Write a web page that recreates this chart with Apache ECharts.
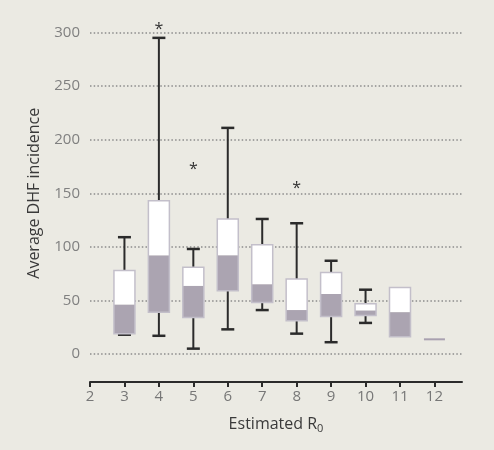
<!DOCTYPE html>
<html><head><meta charset="utf-8">
<script src="https://cdn.jsdelivr.net/npm/echarts@6/dist/echarts.min.js"></script>
<style>html,body{margin:0;padding:0;background:#ebeae3;}#c{width:494px;height:450px;}</style>
</head><body><div id="c"></div>
<script>
// Data
const r0 = [3, 4, 5, 6, 7, 8, 9, 10, 11, 12];
const whiskerLow = [18, 17, 5, 23, 41, 19, 11, 29, null, null];
const q1 = [19, 39, 34, 59, 48, 31, 35, 36, 16, 13.7];
const median = [46, 92, 63.5, 92, 65, 41, 56, 40.5, 39, 13.7];
const q3 = [78, 143, 81, 126, 102, 70, 76, 47, 62, 13.7];
const whiskerHigh = [109, 295, 98, 211, 126, 122, 87, 60, null, null];
const outlierX = [4, 5, 8];
const outlierY = [306, 175, 157];
const yTicks = [0, 50, 100, 150, 200, 250, 300];
const xTicks = [2, 3, 4, 5, 6, 7, 8, 9, 10, 11, 12];

const boxData = r0.map((x, i) => [x, whiskerLow[i], q1[i], median[i], q3[i], whiskerHigh[i]]);
const outData = outlierX.map((x, i) => [x, outlierY[i]]);

const BOX_W = 21, CAP_W = 12;
const FONT = "'Open Sans', 'Liberation Sans', sans-serif";

function renderBox(params, api) {
  const x = api.value(0);
  const lo = api.value(1), a = api.value(2), m = api.value(3), b = api.value(4), hi = api.value(5);
  const pa = api.coord([x, a]), pm = api.coord([x, m]), pb = api.coord([x, b]);
  const cx = pa[0];
  const children = [];
  const wStyle = {stroke: '#2b2b2b', lineWidth: 2};
  if (!isNaN(hi) && hi !== null && hi !== '-') {
    const ph = api.coord([x, hi]);
    children.push({type: 'line', shape: {x1: cx, y1: ph[1], x2: cx, y2: pb[1]}, style: wStyle});
    children.push({type: 'line', shape: {x1: cx - CAP_W / 2 - 0.5, y1: ph[1], x2: cx + CAP_W / 2 + 0.5, y2: ph[1]}, style: {stroke: '#2b2b2b', lineWidth: 2.5}});
  }
  if (!isNaN(lo) && lo !== null && lo !== '-') {
    const pl = api.coord([x, lo]);
    children.push({type: 'line', shape: {x1: cx, y1: pa[1], x2: cx, y2: pl[1]}, style: wStyle});
    children.push({type: 'line', shape: {x1: cx - CAP_W / 2 - 0.5, y1: pl[1], x2: cx + CAP_W / 2 + 0.5, y2: pl[1]}, style: {stroke: '#2b2b2b', lineWidth: 2.5}});
  }
  if (b === a) {
    children.push({type: 'line', shape: {x1: cx - BOX_W / 2, y1: pa[1], x2: cx + BOX_W / 2, y2: pa[1]}, style: {stroke: '#a9a1b0', lineWidth: 2}});
  } else {
    children.push({type: 'rect', shape: {x: cx - BOX_W / 2, y: pb[1], width: BOX_W, height: pm[1] - pb[1]}, style: {fill: '#ffffff'}});
    children.push({type: 'rect', shape: {x: cx - BOX_W / 2, y: pm[1], width: BOX_W, height: pa[1] - pm[1]}, style: {fill: '#aba4b1'}});
    children.push({type: 'rect', shape: {x: cx - BOX_W / 2, y: pb[1], width: BOX_W, height: pa[1] - pb[1]}, style: {fill: 'none', stroke: '#c3bfca', lineWidth: 1.5}});
  }
  return {type: 'group', children};
}

function renderOutlier(params, api) {
  const p = api.coord([api.value(0), api.value(1)]);
  return {type: 'text', style: {text: '*', x: p[0], y: p[1] + 3, fill: '#333', font: '16px ' + FONT, align: 'center', verticalAlign: 'middle'}};
}

const chart = echarts.init(document.getElementById('c'));
chart.setOption({
  backgroundColor: '#ebeae3',
  animation: false,
  grid: {left: 90, right: 32, top: 32.5, bottom: 96},
  xAxis: {
    type: 'value', min: 2, max: 12.8, interval: 1, offset: 28,
    axisLine: {show: true, onZero: false, lineStyle: {color: '#2b2b2b', width: 2}},
    axisTick: {show: true, length: 5, lineStyle: {color: '#2b2b2b', width: 2}},
    axisLabel: {color: '#777', fontSize: 15, fontFamily: FONT, margin: 7, showMaxLabel: false,
      formatter: v => (xTicks.indexOf(v) >= 0 ? String(v) : '')},
    splitLine: {show: false},
    name: 'Estimated R{sub|0}', nameLocation: 'middle', nameGap: 33,
    nameTextStyle: {color: '#3a3a3a', fontSize: 16, fontFamily: FONT,
      rich: {sub: {fontSize: 11, color: '#3a3a3a', fontFamily: FONT, verticalAlign: 'bottom', padding: [8, 0, 0, 0]}}}
  },
  yAxis: {
    type: 'value', min: 0, max: 300, interval: 50,
    axisLine: {show: false}, axisTick: {show: false},
    axisLabel: {color: '#808080', fontSize: 15, fontFamily: FONT, margin: 10},
    splitLine: {show: true, lineStyle: {color: '#8c8c8c', width: 1.5, type: [1.5, 2.2]}},
    name: 'Average DHF incidence', nameLocation: 'middle', nameGap: 48,
    nameTextStyle: {color: '#3a3a3a', fontSize: 16, fontFamily: FONT}
  },
  series: [
    {type: 'custom', renderItem: renderBox, data: boxData, encode: {x: 0, y: [1, 2, 3, 4, 5]}, clip: false},
    {type: 'custom', renderItem: renderOutlier, data: outData, encode: {x: 0, y: 1}, clip: false}
  ]
});
</script></body></html>
